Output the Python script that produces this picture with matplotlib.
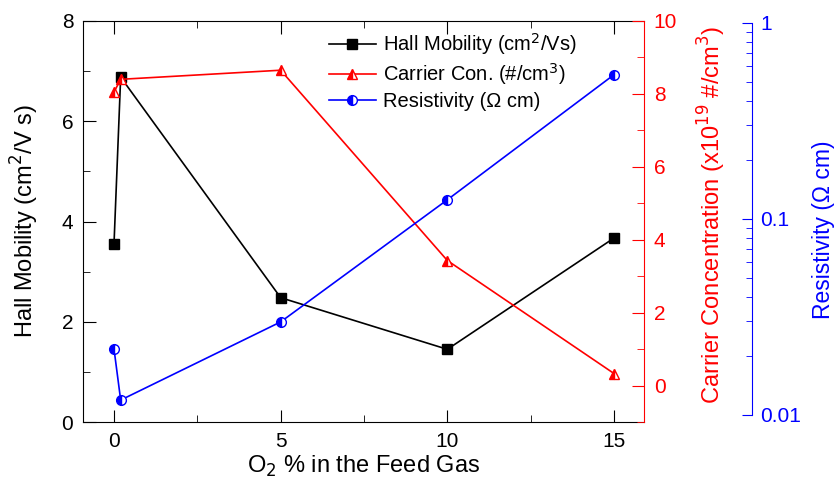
import numpy as np
import matplotlib
matplotlib.use("Agg")
import matplotlib.pyplot as plt
from matplotlib.ticker import MultipleLocator, LogLocator, NullFormatter

plt.rcParams['font.family'] = ['Liberation Sans', 'DejaVu Sans']

# data
o2 = [0, 0.2, 5, 10, 15]
mobility = [3.55, 6.88, 2.48, 1.45, 3.67]      # cm2/V s
carrier = [8.05, 8.4, 8.65, 3.43, 0.33]        # x1e19 #/cm3
resistivity = [0.0217, 0.0119, 0.0298, 0.125, 0.543]  # ohm cm

W, H = 837, 483
x0, x1, ytop, ybot = 83, 644, 21, 422
fig = plt.figure(figsize=(W / 100, H / 100), dpi=100)
ax = fig.add_axes([x0 / W, 1 - ybot / H, (x1 - x0) / W, (ybot - ytop) / H])
ax2 = ax.twinx()
ax3 = ax.twinx()


def fx(px):
    # figure pixel column -> axes fraction
    return (px - x0) / (x1 - x0)


def fy(py):
    # figure pixel row -> axes fraction
    return (ybot - py) / (ybot - ytop)


l1, = ax.plot(o2, mobility, '-s', color='black', lw=1.2, ms=6.5,
              label='Hall Mobility (cm$^2$/Vs)')
l2, = ax2.plot(o2, carrier, '-^', color='red', lw=1.2, ms=7.5,
               fillstyle='left', markerfacecoloralt='white', mec='red',
               label='Carrier Con. (#/cm$^3$)')
l3, = ax3.plot(o2, resistivity, '-o', color='blue', lw=1.2, ms=7,
               fillstyle='left', markerfacecoloralt='white', mec='blue',
               label='Resistivity (\u03a9 cm)')

tfs = 15   # tick labels
lfs = 17   # axis labels

ax.set_xlim(-0.93, 15.9)
ax.set_ylim(0, 8)
ax.xaxis.set_major_locator(MultipleLocator(5))
ax.xaxis.set_minor_locator(MultipleLocator(2.5))
ax.yaxis.set_major_locator(MultipleLocator(2))
ax.yaxis.set_minor_locator(MultipleLocator(1))
ax.tick_params(which='both', direction='in', top=True, labelsize=tfs, pad=7)
ax.tick_params(which='major', length=9)
ax.tick_params(which='minor', length=5)
ax.tick_params(axis='y', which='both', right=False)
ax.set_xlabel('O$_2$ % in the Feed Gas', fontsize=lfs)
ax.xaxis.set_label_coords(0.5, fy(454))
ax.set_ylabel('Hall Mobility (cm$^2$/V s)', fontsize=lfs)
ax.yaxis.set_label_coords(fx(41), 0.5)
ax.spines['right'].set_visible(False)

ax2.set_ylim(-1, 10)
ax2.yaxis.set_minor_locator(MultipleLocator(1))
ax2.set_yticks([0, 2, 4, 6, 8, 10])
ax2.tick_params(which='both', direction='in', colors='red', labelsize=tfs, pad=7)
ax2.tick_params(which='major', length=9)
ax2.tick_params(which='minor', length=5)
ax2.spines['right'].set_color('red')
for s in ['left', 'top', 'bottom']:
    ax2.spines[s].set_visible(False)
ax2.set_ylabel('Carrier Concentration (x10$^{19}$ #/cm$^3$)', color='red',
               fontsize=lfs)
ax2.yaxis.set_label_coords(fx(696), fy(215))

ax3.set_yscale('log')
ax3.set_ylim(0.0092, 1.02)
ax3.spines['right'].set_position(('axes', fx(752)))
ax3.spines['right'].set_color('blue')
ax3.spines['right'].set_bounds(0.01, 1)
for s in ['left', 'top', 'bottom']:
    ax3.spines[s].set_visible(False)
ax3.yaxis.set_minor_locator(LogLocator(base=10, subs=np.arange(2, 10)))
ax3.yaxis.set_minor_formatter(NullFormatter())
ax3.set_yticks([0.01, 0.1, 1])
ax3.set_yticklabels(['0.01', '0.1', '1'])
ax3.tick_params(which='both', direction='in', colors='blue', labelsize=tfs, pad=6)
ax3.tick_params(which='major', length=7)
ax3.tick_params(which='minor', length=4)
ax3.set_ylabel('Resistivity (\u03a9 cm)', color='blue', fontsize=16.5)
ax3.yaxis.set_label_coords(fx(812), fy(230))

ax3.legend(handles=[l1, l2, l3], loc='upper left', bbox_to_anchor=(0.42, 1.0),
           frameon=False, fontsize=14.5, handlelength=2.35, handletextpad=0.35,
           labelspacing=0.22, borderaxespad=0.1)

fig.savefig('out.png', dpi=100)
